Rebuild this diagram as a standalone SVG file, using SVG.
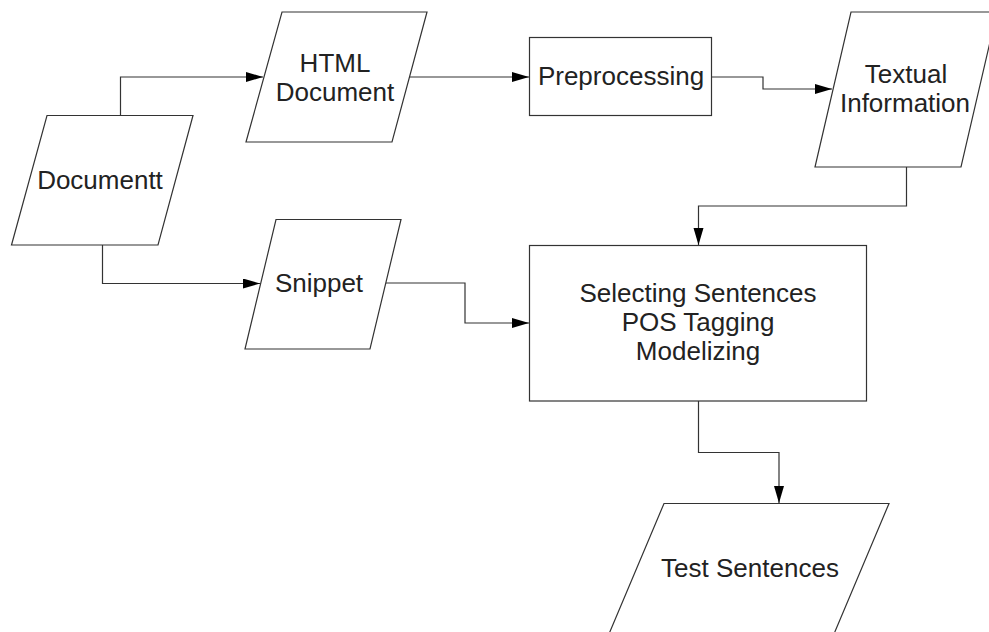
<svg xmlns="http://www.w3.org/2000/svg" width="989" height="632" viewBox="0 0 989 632">
  <style>
    .shape { fill: #ffffff; stroke: #333333; stroke-width: 1.2; }
    .edge { fill: none; stroke: #333333; stroke-width: 1.2; marker-end: url(#arrow); }
    .label { font-family: "Liberation Sans", Arial, sans-serif; font-size: 26px; fill: #222222; text-anchor: middle; }
  </style>
  <defs>
    <marker id="arrow" markerUnits="userSpaceOnUse" markerWidth="18" markerHeight="12" refX="17" refY="5" orient="auto">
      <path d="M0,0 L17,5 L0,10 Z" fill="#000000"/>
    </marker>
  </defs>

  <rect x="0" y="0" width="989" height="632" fill="#ffffff"/>

  <!-- connectors -->
  <g id="connectors">
    <polyline class="edge" points="120.5,115.5 120.5,77 263,77"/>
    <polyline class="edge" points="102.5,245 102.5,283.5 260,283.5"/>
    <polyline class="edge" points="409,77 529,77"/>
    <polyline class="edge" points="711,77 763,77 763,89 832,89"/>
    <polyline class="edge" points="906.5,167 906.5,206 698.5,206 698.5,245"/>
    <polyline class="edge" points="386,283 465,283 465,323 529,323"/>
    <polyline class="edge" points="698.5,401 698.5,452.5 779,452.5 779,503"/>
  </g>

  <g id="documentt">
    <polygon class="shape" points="47,115.5 193,115.5 158,245 11.5,245"/>
    <text class="label" x="100" y="189">Documentt</text>
  </g>

  <g id="html-document">
    <polygon class="shape" points="282,12 427,12 392,142 246,142"/>
    <text class="label" x="335" y="72">HTML</text>
    <text class="label" x="335" y="101">Document</text>
  </g>

  <g id="snippet">
    <polygon class="shape" points="276,219.5 401,219.5 370,349 245,349"/>
    <text class="label" x="319" y="292">Snippet</text>
  </g>

  <g id="preprocessing">
    <rect class="shape" x="529.5" y="37.5" width="182" height="78"/>
    <text class="label" x="621" y="85">Preprocessing</text>
  </g>

  <g id="textual-information">
    <polygon class="shape" points="851,12 997,12 961,167 815,167"/>
    <text class="label" x="906" y="83">Textual</text>
    <text class="label" x="905" y="112">Information</text>
  </g>

  <g id="processing">
    <rect class="shape" x="529.5" y="245.5" width="337" height="155.5"/>
    <text class="label" x="698" y="302">Selecting Sentences</text>
    <text class="label" x="698" y="331">POS Tagging</text>
    <text class="label" x="698" y="360">Modelizing</text>
  </g>

  <g id="test-sentences">
    <polygon class="shape" points="664,503.5 889,503.5 823,660 598,660"/>
    <text class="label" x="750" y="577">Test Sentences</text>
  </g>
</svg>
